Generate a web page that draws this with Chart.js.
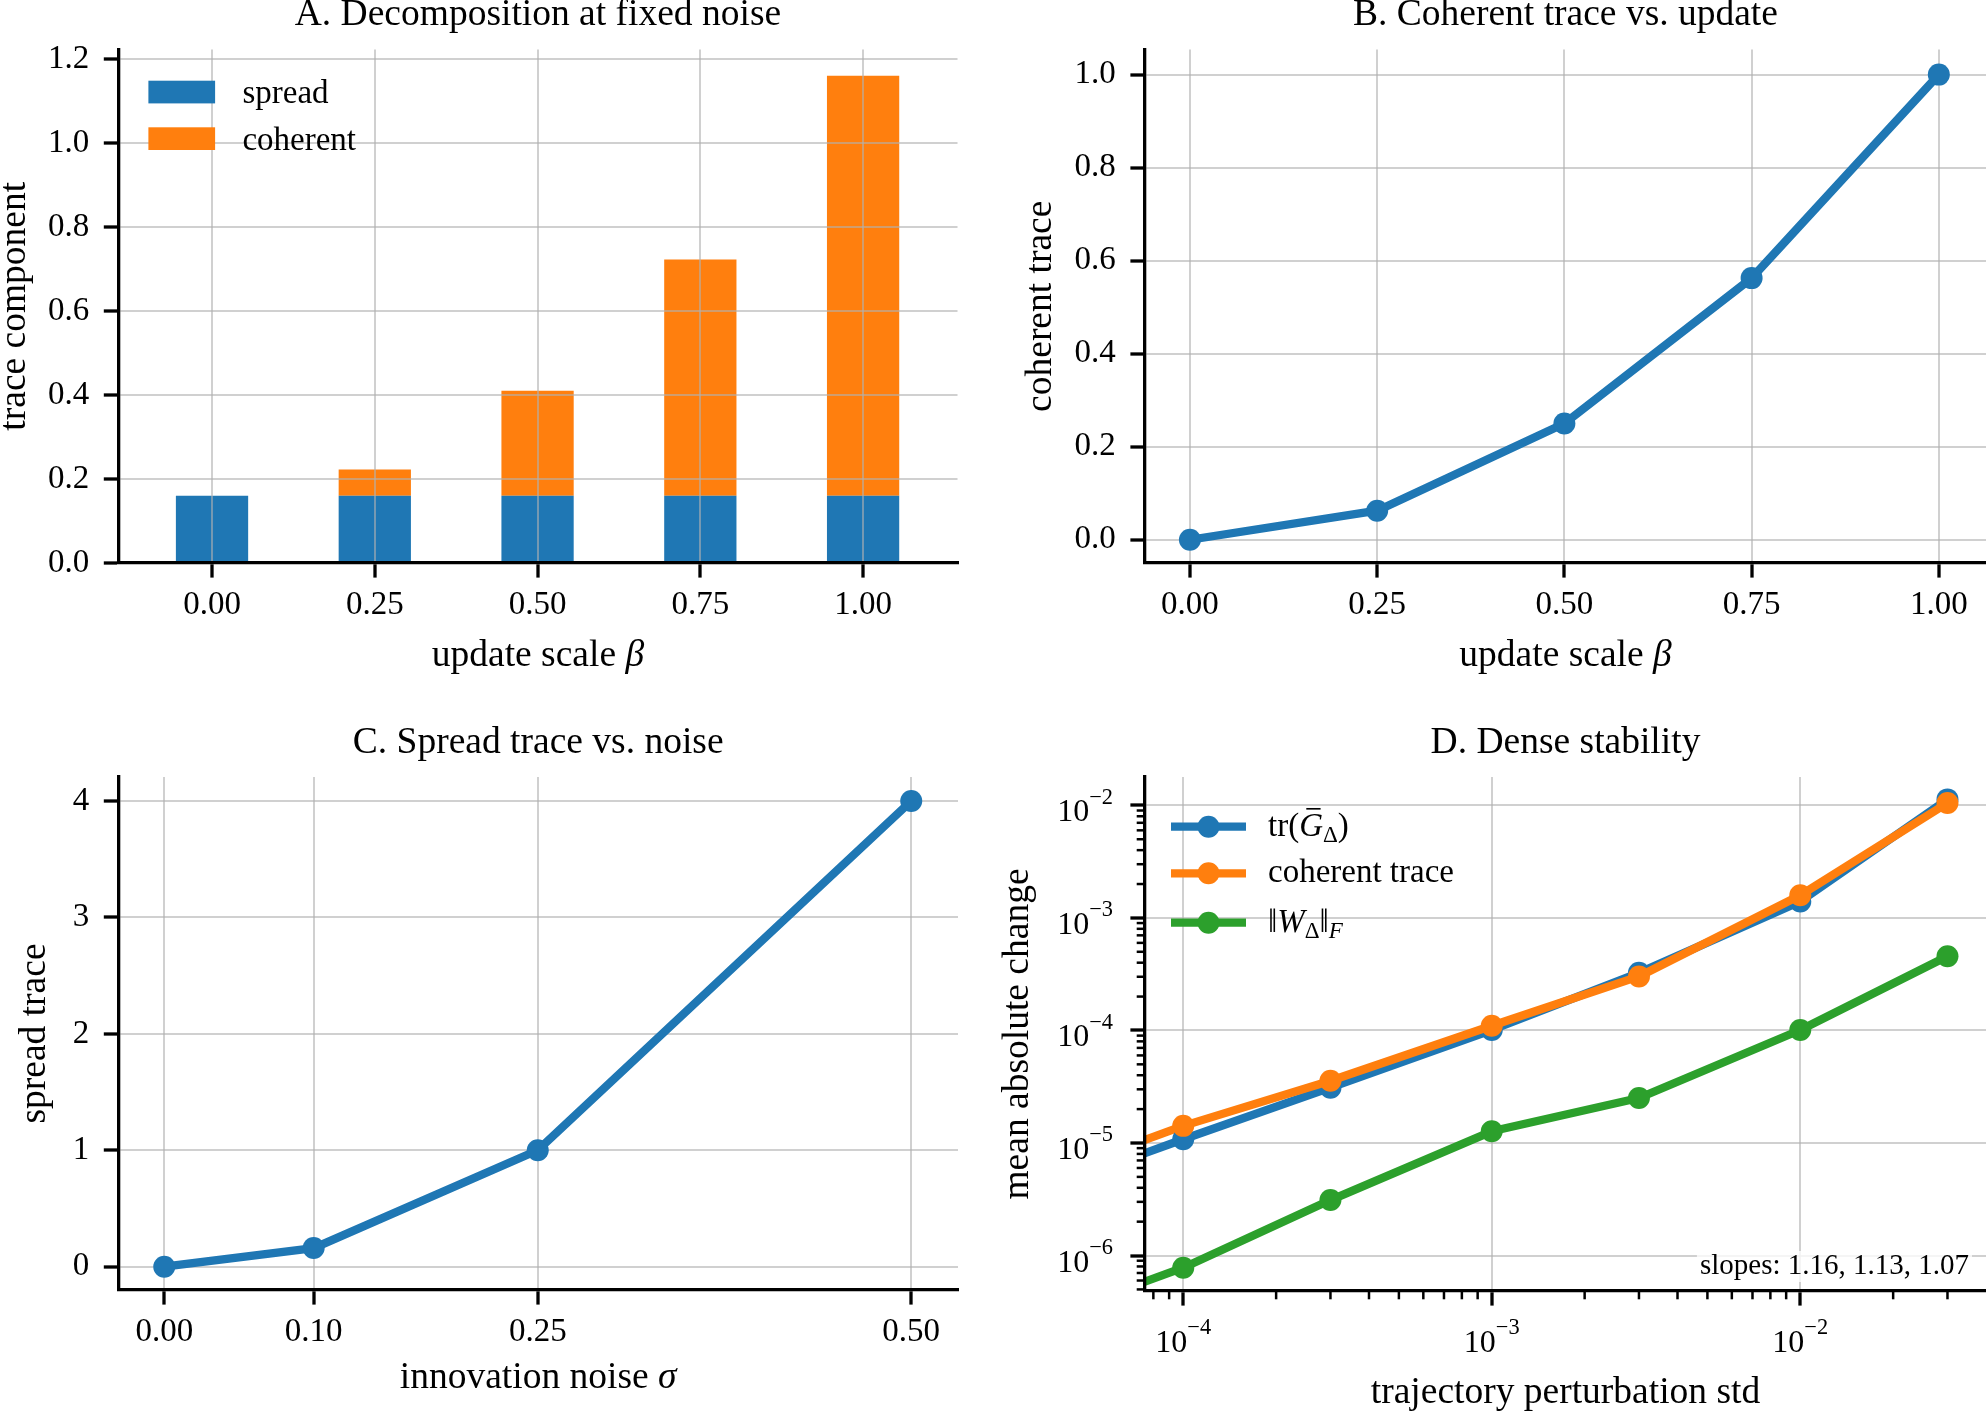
<!DOCTYPE html>
<html lang="en">
<head>
  <meta charset="UTF-8">
  <title>Trace decomposition</title>
  <script src="https://cdn.jsdelivr.net/npm/chart.js"></script>
  <style>
    body { margin: 0; background: #fff; }
    #fig { position: relative; width: 1986px; height: 1413px; background: #fff; }
    #fig canvas { position: absolute; }
  </style>
</head>
<body>
  <div id="fig">
    <canvas id="panelA" width="993" height="706" style="left:0;top:0"></canvas>
    <canvas id="panelB" width="993" height="706" style="left:993px;top:0"></canvas>
    <canvas id="panelC" width="993" height="707" style="left:0;top:706px"></canvas>
    <canvas id="panelD" width="993" height="707" style="left:993px;top:706px"></canvas>
  </div>

  <script>
    // ---- data ----
    const betaValues = [0, 0.25, 0.5, 0.75, 1.0];
    const spreadAtBeta = [0.16, 0.16, 0.16, 0.16, 0.16];
    const coherentAtBeta = [0, 0.0625, 0.25, 0.5625, 1.0];

    const sigmaValues = [0, 0.1, 0.25, 0.5];
    const spreadTrace = [0, 0.16, 1.0, 4.0];

    const perturbStd = [1e-4, 3e-4, 1e-3, 3e-3, 1e-2, 3e-2];
    const trG = [1.08e-5, 3.1e-5, 1.01e-4, 3.25e-4, 1.4e-3, 1.13e-2];
    const coherentTrace = [1.42e-5, 3.57e-5, 1.1e-4, 3.02e-4, 1.59e-3, 1.05e-2];
    const normW = [7.8e-7, 3.11e-6, 1.27e-5, 2.51e-5, 1.01e-4, 4.57e-4];
    const slopes = [1.16, 1.13, 1.07];

    // tick labels
    const betaTicks = [0, 0.25, 0.5, 0.75, 1.0];
    const componentTicks = [0, 0.2, 0.4, 0.6, 0.8, 1.0, 1.2];
    const coherentTicks = [0, 0.2, 0.4, 0.6, 0.8, 1.0];
    const sigmaTicks = [0, 0.1, 0.25, 0.5];
    const spreadTicks = [0, 1, 2, 3, 4];
    const stdDecades = [-4, -3, -2];
    const changeDecades = [-6, -5, -4, -3, -2];

    const BLUE = '#1f77b4', ORANGE = '#ff7f0e', GREEN = '#2ca02c';
    const GRID = 'rgba(176,176,176,0.6)';
    const SERIF = "'Liberation Serif', 'DejaVu Serif', serif";

    Chart.defaults.font.family = SERIF;
    Chart.defaults.color = '#000';

    function fontOf(size, italic) {
      return (italic ? 'italic ' : '') + size + 'px ' + SERIF;
    }

    // draws a run of text pieces: '' roman, 'i' italic, 'sub'/'isub' subscript, 'sup' superscript, 'ibar' italic with overbar
    function drawRich(ctx, parts, x, y, size, align) {
      const items = parts.map(([t, k]) => {
        const small = k === 'sub' || k === 'isub' || k === 'sup';
        const s = small ? size * 0.7 : size;
        const it = k === 'i' || k === 'isub' || k === 'ibar';
        const dy = (k === 'sub' || k === 'isub') ? size * 0.2 : k === 'sup' ? -size * 0.55 : 0;
        ctx.font = fontOf(s, it);
        return { t, s, it, dy, w: ctx.measureText(t).width, bar: k === 'ibar' };
      });
      const total = items.reduce((acc, p) => acc + p.w, 0);
      let cx = align === 'center' ? x - total / 2 : align === 'right' ? x - total : x;
      ctx.textAlign = 'left';
      ctx.textBaseline = 'alphabetic';
      for (const p of items) {
        ctx.font = fontOf(p.s, p.it);
        ctx.fillText(p.t, cx, y + p.dy);
        if (p.bar) ctx.fillRect(cx + p.w * 0.3, y - size * 0.84, p.w * 0.6, size * 0.05);
        cx += p.w;
      }
      return total;
    }

    // titles and axis labels, placed like the original figure
    const panelText = {
      id: 'panelText',
      afterDraw(chart, args, o) {
        if (!o || !o.title) return;
        const { ctx, chartArea: a } = chart;
        const cx = (a.left + a.right) / 2;
        ctx.save();
        ctx.fillStyle = '#000';
        drawRich(ctx, [[o.title, '']], cx, a.top - 24.5, 37.5, 'center');
        drawRich(ctx, o.xTitle, cx, o.xBase, 37.5, 'center');
        ctx.translate(o.yBase, (a.top + a.bottom) / 2);
        ctx.rotate(-Math.PI / 2);
        drawRich(ctx, o.yTitle, 0, 0, 37.5, 'center');
        ctx.restore();
      }
    };
    Chart.register(panelText);

    function axis(o) {
      return {
        type: o.type || 'linear',
        min: o.min,
        max: o.max,
        offset: false,
        stacked: o.stacked || false,
        grid: {
          color: GRID, lineWidth: 2, offset: false,
          tickColor: '#000', tickWidth: 3.3, tickLength: 14.6,
          z: o.gridZ !== undefined ? o.gridZ : -1
        },
        border: { color: '#000', width: 3.3, z: o.borderZ || 1 },
        ticks: {
          display: o.labels !== false,
          padding: o.pad,
          font: { size: 33 },
          color: '#000',
          maxRotation: 0, minRotation: 0, autoSkip: false,
          callback: o.fmt
        },
        afterBuildTicks: s => { s.ticks = o.ticks.map(v => ({ value: v })); },
        afterFit: s => {
          if (o.w !== undefined) s.width = o.w;
          if (o.h !== undefined) s.height = o.h;
        }
      };
    }

    const base = {
      responsive: false,
      devicePixelRatio: 1,
      animation: false,
      events: [],
      layout: { autoPadding: false },
      plugins: { legend: { display: false }, tooltip: { enabled: false } }
    };

    function lineSet(label, xs, ys, color, order) {
      return {
        label,
        data: xs.map((x, i) => ({ x, y: ys[i] })),
        borderColor: color, backgroundColor: color,
        borderWidth: 8.3, borderJoinStyle: 'round',
        pointRadius: 11, pointBorderWidth: 0, pointBackgroundColor: color,
        order
      };
    }

    // ---- A: stacked bars ----
    const legendA = {
      id: 'legendA',
      afterDraw(chart) {
        const { ctx, chartArea: a } = chart;
        ctx.save();
        chart.data.datasets.forEach((ds, i) => {
          const top = a.top + 31.2 + i * 46.6;
          ctx.fillStyle = ds.backgroundColor;
          ctx.fillRect(a.left + 30, top, 66.7, 22.7);
          ctx.fillStyle = '#000';
          drawRich(ctx, [[ds.label, '']], a.left + 124, top + 22.5, 33, 'left');
        });
        ctx.restore();
      }
    };

    new Chart(document.getElementById('panelA'), {
      type: 'bar',
      data: {
        datasets: [
          { label: 'spread', data: betaValues.map((b, i) => ({ x: b, y: spreadAtBeta[i] })),
            backgroundColor: BLUE, borderWidth: 0, barPercentage: 0.444, categoryPercentage: 1 },
          { label: 'coherent', data: betaValues.map((b, i) => ({ x: b, y: coherentAtBeta[i] })),
            backgroundColor: ORANGE, borderWidth: 0, barPercentage: 0.444, categoryPercentage: 1 }
        ]
      },
      options: {
        ...base,
        layout: { autoPadding: false, padding: { left: 0, top: 49.5, right: 35.5, bottom: 0 } },
        scales: {
          x: axis({ min: -0.1438, max: 1.145, ticks: betaTicks, fmt: v => v.toFixed(2), pad: 8.3, h: 143, stacked: true, gridZ: 1, borderZ: 2 }),
          y: axis({ min: 0, max: 1.2226, ticks: componentTicks, fmt: v => v.toFixed(1), pad: 14.6, w: 118.4, stacked: true, gridZ: 1, borderZ: 2 })
        },
        plugins: {
          ...base.plugins,
          panelText: {
            title: 'A. Decomposition at fixed noise',
            xTitle: [['update scale ', ''], ['β', 'i']], xBase: 666,
            yTitle: [['trace component', '']], yBase: 25
          }
        }
      },
      plugins: [legendA]
    });

    // ---- B: coherent trace vs update ----
    new Chart(document.getElementById('panelB'), {
      type: 'line',
      data: { datasets: [lineSet('coherent trace', betaValues, coherentAtBeta, BLUE, 1)] },
      options: {
        ...base,
        layout: { autoPadding: false, padding: { left: 0, top: 49.5, right: 0, bottom: 0 } },
        scales: {
          x: axis({ min: -0.06, max: 1.063, ticks: betaTicks, fmt: v => v.toFixed(2), pad: 8.3, h: 143 }),
          y: axis({ min: -0.05, max: 1.054, ticks: coherentTicks, fmt: v => v.toFixed(1), pad: 14.6, w: 152 })
        },
        plugins: {
          ...base.plugins,
          panelText: {
            title: 'B. Coherent trace vs. update',
            xTitle: [['update scale ', ''], ['β', 'i']], xBase: 666,
            yTitle: [['coherent trace', '']], yBase: 58
          }
        }
      }
    });

    // ---- C: spread trace vs noise ----
    new Chart(document.getElementById('panelC'), {
      type: 'line',
      data: { datasets: [lineSet('spread trace', sigmaValues, spreadTrace, BLUE, 1)] },
      options: {
        ...base,
        layout: { autoPadding: false, padding: { left: 0, top: 71, right: 35, bottom: 0 } },
        scales: {
          x: axis({ min: -0.0307, max: 0.5313, ticks: sigmaTicks, fmt: v => v.toFixed(2), pad: 8.3, h: 123 }),
          y: axis({ min: -0.2, max: 4.206, ticks: spreadTicks, fmt: v => v.toFixed(0), pad: 14.6, w: 118.4 })
        },
        plugins: {
          ...base.plugins,
          panelText: {
            title: 'C. Spread trace vs. noise',
            xTitle: [['innovation noise ', ''], ['σ', 'i']], xBase: 682,
            yTitle: [['spread trace', '']], yBase: 45
          }
        }
      }
    });

    // ---- D: log-log stability ----
    const logDecor = {
      id: 'logDecor',
      // the series start at std 0 / change 0, which the log axes clip: the first segment runs off to the lower left
      beforeDatasetsDraw(chart) {
        const { ctx, chartArea: a, scales: { x, y } } = chart;
        const dxDec = x.getPixelForValue(1e-3) - x.getPixelForValue(1e-4);
        const dyDec = y.getPixelForValue(1e-4) - y.getPixelForValue(1e-3);
        ctx.save();
        ctx.beginPath();
        ctx.rect(a.left, a.top, a.right - a.left, a.bottom - a.top);
        ctx.clip();
        [...chart.data.datasets].sort((p, q) => q.order - p.order).forEach(ds => {
          const p0 = ds.data[0];
          const px = x.getPixelForValue(p0.x), py = y.getPixelForValue(p0.y);
          ctx.strokeStyle = ds.borderColor;
          ctx.lineWidth = ds.borderWidth;
          ctx.beginPath();
          ctx.moveTo(px, py);
          ctx.lineTo(px - dxDec, py + dyDec);
          ctx.stroke();
        });
        ctx.restore();
      },
      afterDraw(chart) {
        const { ctx, chartArea: a, scales: { x, y } } = chart;
        ctx.save();
        // minor ticks
        ctx.strokeStyle = '#000';
        ctx.lineWidth = 2.5;
        for (let d = -7; d <= -1; d++) {
          for (let m = 2; m <= 9; m++) {
            const v = m * Math.pow(10, d);
            if (v >= x.min && v <= x.max) {
              const px = x.getPixelForValue(v);
              ctx.beginPath(); ctx.moveTo(px, a.bottom); ctx.lineTo(px, a.bottom + 8.3); ctx.stroke();
            }
            if (v >= y.min && v <= y.max) {
              const py = y.getPixelForValue(v);
              ctx.beginPath(); ctx.moveTo(a.left, py); ctx.lineTo(a.left - 8.3, py); ctx.stroke();
            }
          }
        }
        // decade labels
        ctx.fillStyle = '#000';
        stdDecades.forEach(d => {
          drawRich(ctx, [['10', ''], ['−' + (-d), 'sup']], x.getPixelForValue(Math.pow(10, d)), a.bottom + 60.7, 32, 'center');
        });
        changeDecades.forEach(d => {
          drawRich(ctx, [['10', ''], ['−' + (-d), 'sup']], a.left - 32, y.getPixelForValue(Math.pow(10, d)) + 16, 32, 'right');
        });
        // legend
        const rows = [
          [['tr(', ''], ['G', 'ibar'], ['Δ', 'sub'], [')', '']],
          [['coherent trace', '']],
          [['‖', ''], ['W', 'i'], ['Δ', 'sub'], ['‖', ''], ['F', 'isub']]
        ];
        const rowY = [49.7, 96.3, 145.7];
        chart.data.datasets.forEach((ds, i) => {
          const cy = a.top + rowY[i];
          ctx.strokeStyle = ds.borderColor;
          ctx.lineWidth = ds.borderWidth;
          ctx.beginPath(); ctx.moveTo(a.left + 26, cy); ctx.lineTo(a.left + 101, cy); ctx.stroke();
          ctx.fillStyle = ds.borderColor;
          ctx.beginPath(); ctx.arc(a.left + 63.5, cy, 11, 0, Math.PI * 2); ctx.fill();
          ctx.fillStyle = '#000';
          drawRich(ctx, rows[i], a.left + 123, cy + 9, 33, 'left');
        });
        // slope annotation
        ctx.font = fontOf(29, false);
        const note = 'slopes: ' + slopes.map(s => s.toFixed(2)).join(', ');
        const w = ctx.measureText(note).width;
        const bx = a.right - 17, by = a.bottom - 17;
        ctx.fillStyle = 'rgba(255,255,255,0.8)';
        ctx.fillRect(bx - w - 3, by - 23, w + 6, 31);
        ctx.fillStyle = '#000';
        drawRich(ctx, [[note, '']], bx, by, 29, 'right');
        ctx.restore();
      }
    };

    new Chart(document.getElementById('panelD'), {
      type: 'line',
      data: {
        datasets: [
          lineSet('tr(G_Δ)', perturbStd, trG, BLUE, 3),
          lineSet('coherent trace', perturbStd, coherentTrace, ORANGE, 2),
          lineSet('‖W_Δ‖_F', perturbStd, normW, GREEN, 1)
        ]
      },
      options: {
        ...base,
        layout: { autoPadding: false, padding: { left: 0, top: 71, right: 0, bottom: 0 } },
        scales: {
          x: axis({ type: 'logarithmic', min: Math.pow(10, -4.124), max: Math.pow(10, -1.398), ticks: stdDecades.map(d => Math.pow(10, d)), labels: false, pad: 0, h: 122 }),
          y: axis({ type: 'logarithmic', min: Math.pow(10, -6.315), max: Math.pow(10, -1.748), ticks: changeDecades.map(d => Math.pow(10, d)), labels: false, pad: 0, w: 152 })
        },
        plugins: {
          ...base.plugins,
          panelText: {
            title: 'D. Dense stability',
            xTitle: [['trajectory perturbation std', '']], xBase: 697,
            yTitle: [['mean absolute change', '']], yBase: 35
          }
        }
      },
      plugins: [logDecor]
    });
  </script>
</body>
</html>
